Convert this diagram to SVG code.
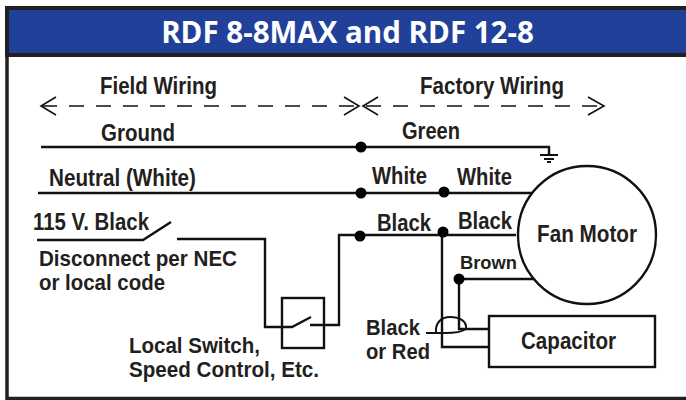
<svg xmlns="http://www.w3.org/2000/svg" width="686" height="400" viewBox="0 0 686 400">
<style>
text{font-family:"Liberation Sans",Arial,sans-serif;font-weight:700;font-size:23px;fill:#231f20}
.title{font-family:"Open Sans",sans-serif;font-size:29.5px;fill:#fff}
.w{fill:none;stroke:#111;stroke-width:2.4;stroke-linejoin:miter}
.t{fill:none;stroke:#111;stroke-width:1.6}
.d{fill:none;stroke:#111;stroke-width:1.6;stroke-dasharray:15 12}
.dot{fill:#000}
.s{font-size:22px}
</style>
<rect width="686" height="400" fill="#fff"/>
<g id="frame">
<rect x="7" y="8" width="690" height="390.5" fill="#fff" stroke="#231f20" stroke-width="3.5"/>
<rect x="7" y="8" width="690" height="47" fill="#21409a" stroke="#231f20" stroke-width="4"/>
<text class="title" x="347.5" y="43" text-anchor="middle">RDF 8-8MAX and RDF 12-8</text>
</g>
<g id="connectors">
<path class="d" d="M42 106H356"/>
<path class="t" d="M56 97L41 106L56 115M344 97L359 106L344 115"/>
<path class="d" d="M366 106H600"/>
<path class="t" d="M378 97L363 106L378 115M588 97L604 106L588 115"/>
<path class="w" d="M41 147H549V155"/>
<path class="t" style="stroke-width:2" d="M540 155H558M544 159H554M547 162H551"/>
<path class="w" d="M38 193H535"/>
<path class="w" d="M37 240H143L171 222"/>
<path class="w" d="M177 239H265V327H292L311 317"/>
<path class="w" d="M310 325H339V235H516"/>
<path class="w" d="M442 232V347H489"/>
<path class="w" d="M459 279V329H489"/>
<path class="w" d="M459 279H534"/>
<path class="t" style="stroke-width:2" d="M426 333H445C455 333 463 331 466 329C467 322 461 317 450 317C441 317 435 323 436 333"/>
</g>
<g id="dots">
<circle class="dot" cx="361" cy="147" r="5.5"/>
<circle class="dot" cx="361" cy="193" r="5.5"/>
<circle class="dot" cx="444" cy="192" r="5.5"/>
<circle class="dot" cx="360" cy="236" r="5.5"/>
<circle class="dot" cx="443" cy="232" r="5.5"/>
<circle class="dot" cx="459" cy="279" r="5.5"/>
</g>
<g id="fan-motor">
<circle cx="587" cy="235" r="69" fill="#fff" stroke="#111" stroke-width="2.4"/>
<text x="537" y="242" textLength="100" lengthAdjust="spacingAndGlyphs">Fan Motor</text>
</g>
<g id="capacitor">
<rect x="489" y="316" width="166" height="51" fill="#fff" stroke="#111" stroke-width="2.4"/>
<text x="521" y="349" textLength="95" lengthAdjust="spacingAndGlyphs">Capacitor</text>
</g>
<g id="switch">
<rect x="282" y="298" width="42" height="50" fill="none" stroke="#111" stroke-width="2.4"/>
</g>
<g id="labels">
<text x="100" y="94" textLength="117" lengthAdjust="spacingAndGlyphs">Field Wiring</text>
<text x="420" y="94" textLength="144" lengthAdjust="spacingAndGlyphs">Factory Wiring</text>
<text x="101" y="141" textLength="74" lengthAdjust="spacingAndGlyphs">Ground</text>
<text x="402" y="139" textLength="58" lengthAdjust="spacingAndGlyphs">Green</text>
<text x="49" y="186" textLength="147" lengthAdjust="spacingAndGlyphs">Neutral (White)</text>
<text x="372" y="184" textLength="55" lengthAdjust="spacingAndGlyphs">White</text>
<text x="457" y="185" textLength="55" lengthAdjust="spacingAndGlyphs">White</text>
<text x="33" y="230" textLength="116" lengthAdjust="spacingAndGlyphs">115 V. Black</text>
<text x="377" y="231" textLength="54" lengthAdjust="spacingAndGlyphs">Black</text>
<text x="458" y="229" textLength="54" lengthAdjust="spacingAndGlyphs">Black</text>
<text x="460" y="269" style="font-size:19px" textLength="57" lengthAdjust="spacingAndGlyphs">Brown</text>
<text class="s" x="39" y="266" textLength="198" lengthAdjust="spacingAndGlyphs">Disconnect per NEC</text>
<text class="s" x="39" y="290" textLength="126" lengthAdjust="spacingAndGlyphs">or local code</text>
<text class="s" x="129" y="353" textLength="131" lengthAdjust="spacingAndGlyphs">Local Switch,</text>
<text class="s" x="129" y="377" textLength="190" lengthAdjust="spacingAndGlyphs">Speed Control, Etc.</text>
<text class="s" x="366" y="335" textLength="54" lengthAdjust="spacingAndGlyphs">Black</text>
<text class="s" x="366" y="359" textLength="64" lengthAdjust="spacingAndGlyphs">or Red</text>
</g>
</svg>
